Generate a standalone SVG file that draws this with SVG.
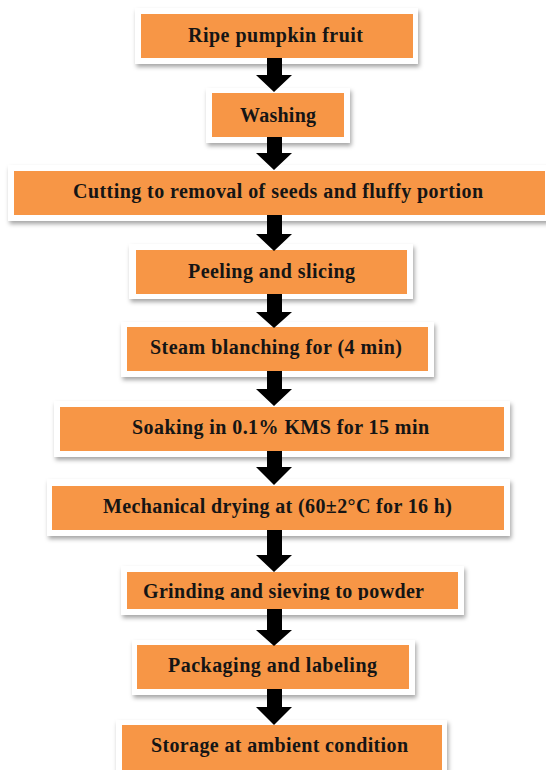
<svg xmlns="http://www.w3.org/2000/svg" width="546" height="770" viewBox="0 0 546 770">
<style>
.frame{fill:#ffffff;filter:url(#sh);}
.box{fill:#F79646;}
.lbl{font-family:"Liberation Serif","Times New Roman",serif;font-weight:bold;font-size:20px;fill:#151515;text-anchor:middle;}
.arr{fill:#000000;}
</style>
<defs>
<filter id="sh" x="-10%" y="-30%" width="120%" height="170%">
<feDropShadow dx="1.5" dy="3" stdDeviation="2" flood-color="#000" flood-opacity="0.35"/>
</filter>
<clipPath id="clip8"><rect x="127" y="572" width="331" height="28"/></clipPath>
</defs>
<rect width="546" height="770" fill="#ffffff"/>
<g id="n1"><rect class="frame" x="135" y="8" width="283" height="56"/><rect class="box" x="141" y="14" width="272" height="44"/><text class="lbl" x="275.5" y="42" textLength="175" lengthAdjust="spacing">Ripe pumpkin fruit</text></g>
<g id="n2"><rect class="frame" x="206" y="88" width="144" height="55"/><rect class="box" x="212" y="93" width="132" height="44"/><text class="lbl" x="278" y="122" textLength="76" lengthAdjust="spacing">Washing</text></g>
<g id="n3"><rect class="frame" x="8" y="165" width="545" height="56"/><rect class="box" x="14" y="171" width="531" height="44"/><text class="lbl" x="278" y="198" textLength="410" lengthAdjust="spacing">Cutting  to removal of seeds and fluffy portion</text></g>
<g id="n4"><rect class="frame" x="129" y="244" width="284" height="55"/><rect class="box" x="136" y="250" width="271" height="44"/><text class="lbl" x="271.5" y="278" textLength="167" lengthAdjust="spacing">Peeling and slicing</text></g>
<g id="n5"><rect class="frame" x="121" y="322" width="313" height="55"/><rect class="box" x="127" y="327" width="301" height="44"/><text class="lbl" x="276" y="354" textLength="252" lengthAdjust="spacing">Steam blanching for (4 min)</text></g>
<g id="n6"><rect class="frame" x="54" y="401" width="456" height="56"/><rect class="box" x="60" y="407" width="444" height="44"/><text class="lbl" x="280.5" y="434" textLength="297" lengthAdjust="spacing">Soaking in 0.1% KMS  for 15 min</text></g>
<g id="n7"><rect class="frame" x="47" y="479" width="463" height="57"/><rect class="box" x="52" y="486" width="452" height="44"/><text class="lbl" x="277.5" y="513" textLength="349" lengthAdjust="spacing">Mechanical drying at (60±2°C for 16 h)</text></g>
<g id="n8"><rect class="frame" x="121" y="566" width="343" height="49"/><rect class="box" x="127" y="572" width="331" height="37"/><text class="lbl" x="283.5" y="598" clip-path="url(#clip8)" textLength="281" lengthAdjust="spacing">Grinding  and sieving to powder</text></g>
<g id="n9"><rect class="frame" x="132" y="640" width="283" height="55"/><rect class="box" x="137" y="645" width="272" height="44"/><text class="lbl" x="272.5" y="672" textLength="209" lengthAdjust="spacing">Packaging and labeling</text></g>
<g id="n10"><rect class="frame" x="116" y="720" width="331" height="60"/><rect class="box" x="122" y="725" width="320" height="50"/><text class="lbl" x="279.5" y="752" textLength="257" lengthAdjust="spacing">Storage at ambient condition</text></g>
<g id="connectors">
<path class="arr" d="M267,58 H282 V75 H292 L274,92 L256,75 H267 Z"/>
<path class="arr" d="M267,137 H282 V153 H292 L274,170 L256,153 H267 Z"/>
<path class="arr" d="M267,215 H282 V234 H292 L274,251 L256,234 H267 Z"/>
<path class="arr" d="M267,294 H282 V312 H292 L274,328 L256,312 H267 Z"/>
<path class="arr" d="M267,371 H282 V389 H292 L274,406 L256,389 H267 Z"/>
<path class="arr" d="M267,451 H282 V467 H292 L274,485 L256,467 H267 Z"/>
<path class="arr" d="M267,530 H282 V555 H292 L274,572 L256,555 H267 Z"/>
<path class="arr" d="M267,609 H282 V630 H292 L274,646 L256,630 H267 Z"/>
<path class="arr" d="M267,689 H282 V707 H292 L274,725 L256,707 H267 Z"/>
</g>
</svg>
